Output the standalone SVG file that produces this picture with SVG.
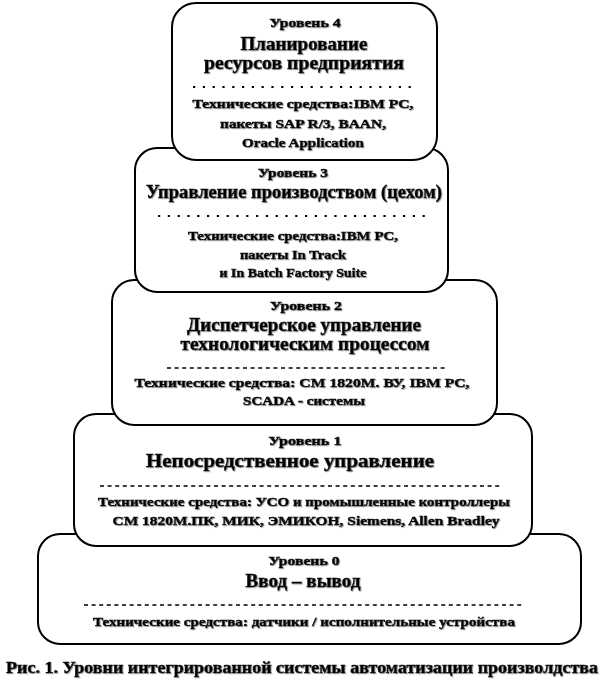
<svg xmlns="http://www.w3.org/2000/svg" width="607" height="693" viewBox="0 0 607 693">
<style>
.box{fill:#fff;stroke:#000;stroke-width:2}
text{font-family:"Liberation Serif","Times New Roman",serif;font-weight:bold;fill:#000;stroke:#000;stroke-width:0.5;text-anchor:middle}
.lv{font-size:13px}
.tt{font-size:18px}
.dt{font-size:13px}
.cap{font-size:16px}
.dots{stroke:#000;stroke-width:2.2;stroke-dasharray:2.2 7.6}
.dash{stroke:#000;stroke-width:1.6;stroke-dasharray:4 3.6}
</style>
<defs>
<filter id="sh" x="-5%" y="-20%" width="110%" height="140%">
<feDropShadow dx="0.8" dy="0.8" stdDeviation="0.5" flood-color="#808080" flood-opacity="0.8"/>
</filter>
</defs>
<rect width="607" height="693" fill="#fff"/>
<g id="level0">
<rect class="box" x="38" y="534" width="543" height="110" rx="22"/>
<g filter="url(#sh)">
<text class="lv" x="304" y="565" textLength="71" lengthAdjust="spacingAndGlyphs">Уровень 0</text>
<text class="tt" x="303" y="587" textLength="115" lengthAdjust="spacingAndGlyphs">Ввод – вывод</text>
<text class="dt" x="304" y="626" textLength="422" lengthAdjust="spacingAndGlyphs">Технические  средства: датчики / исполнительные устройства</text>
</g>
<line class="dash" x1="84" y1="605" x2="523" y2="605"/>
</g>
<g id="level1">
<rect class="box" x="74" y="414" width="458" height="132" rx="22"/>
<g filter="url(#sh)">
<text class="lv" x="305" y="445" textLength="73" lengthAdjust="spacingAndGlyphs">Уровень 1</text>
<text class="tt" x="290" y="467" textLength="288" lengthAdjust="spacingAndGlyphs">Непосредственное управление</text>
<text class="dt" x="304" y="506" textLength="412" lengthAdjust="spacingAndGlyphs">Технические  средства: УСО и промышленные контроллеры</text>
<text class="dt" x="306" y="525" textLength="387" lengthAdjust="spacingAndGlyphs">СМ 1820М.ПК, МИК, ЭМИКОН, Siemens,  Allen  Bradley</text>
</g>
<line class="dash" x1="100" y1="486" x2="500" y2="486"/>
</g>
<g id="level2">
<rect class="box" x="112" y="280" width="385" height="145" rx="22"/>
<g filter="url(#sh)">
<text class="lv" x="306" y="310" textLength="72" lengthAdjust="spacingAndGlyphs">Уровень 2</text>
<text class="tt" x="304" y="331" textLength="234" lengthAdjust="spacingAndGlyphs">Диспетчерское управление</text>
<text class="tt" x="305" y="350" textLength="249" lengthAdjust="spacingAndGlyphs">технологическим процессом</text>
<text class="dt" x="302" y="387" textLength="335" lengthAdjust="spacingAndGlyphs">Технические  средства:  СМ 1820М. ВУ, IBM PC,</text>
<text class="dt" x="304" y="405" textLength="122" lengthAdjust="spacingAndGlyphs">SCADA - системы</text>
</g>
<line class="dash" x1="167" y1="368" x2="446" y2="368"/>
</g>
<g id="level3">
<rect class="box" x="135" y="148" width="313" height="144" rx="22"/>
<g filter="url(#sh)">
<text class="lv" x="293" y="177" textLength="70" lengthAdjust="spacingAndGlyphs">Уровень 3</text>
<text class="tt" x="294" y="198" textLength="296" lengthAdjust="spacingAndGlyphs">Управление производством (цехом)</text>
<text class="dt" x="293" y="240" textLength="210" lengthAdjust="spacingAndGlyphs">Технические  средства:IBM PC,</text>
<text class="dt" x="293" y="259" textLength="106" lengthAdjust="spacingAndGlyphs">пакеты In  Track</text>
<text class="dt" x="293" y="277" textLength="147" lengthAdjust="spacingAndGlyphs">и In Batch Factory Suite</text>
</g>
<line class="dots" x1="158" y1="216" x2="432" y2="216"/>
</g>
<g id="level4">
<rect class="box" x="172" y="3" width="265" height="157" rx="24"/>
<g filter="url(#sh)">
<text class="lv" x="305" y="27" textLength="71" lengthAdjust="spacingAndGlyphs">Уровень 4</text>
<text class="tt" x="304" y="50" textLength="127" lengthAdjust="spacingAndGlyphs">Планирование</text>
<text class="tt" x="304" y="69" textLength="200" lengthAdjust="spacingAndGlyphs">ресурсов предприятия</text>
<text class="dt" x="303" y="108" textLength="221" lengthAdjust="spacingAndGlyphs">Технические  средства:IBM PC,</text>
<text class="dt" x="303" y="128" textLength="166" lengthAdjust="spacingAndGlyphs">пакеты SAP R/3, BAAN,</text>
<text class="dt" x="303" y="147" textLength="122" lengthAdjust="spacingAndGlyphs">Oracle  Application</text>
</g>
<line class="dots" x1="193" y1="87" x2="418" y2="87"/>
</g>
<g id="connectors"></g>
<text class="cap" x="302" y="673" textLength="592" lengthAdjust="spacingAndGlyphs" filter="url(#sh)">Рис. 1. Уровни интегрированной системы автоматизации произволдства</text>
</svg>
